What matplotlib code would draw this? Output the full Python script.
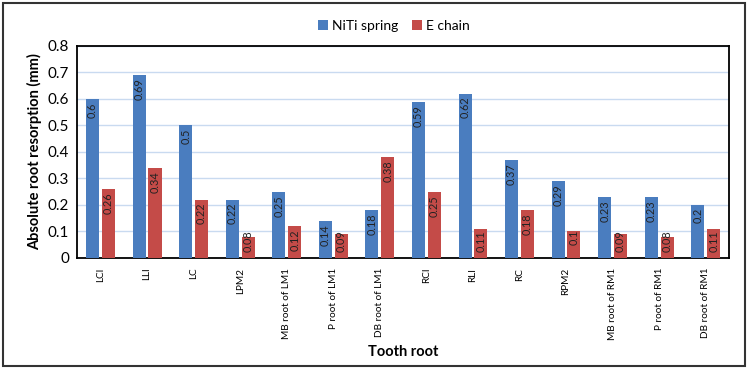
import matplotlib.pyplot as plt
from matplotlib.patches import Rectangle
import numpy as np

plt.rcParams['font.family'] = ['Lato', 'DejaVu Sans']

# tooth roots and values
roots = ["LCI", "LLI", "LC", "LPM2", "MB root of LM1", "P root of LM1", "DB root of LM1",
         "RCI", "RLI", "RC", "RPM2", "MB root of RM1", "P root of RM1", "DB root of RM1"]
niti = [0.6, 0.69, 0.5, 0.22, 0.25, 0.14, 0.18, 0.59, 0.62, 0.37, 0.29, 0.23, 0.23, 0.2]
echain = [0.26, 0.34, 0.22, 0.08, 0.12, 0.09, 0.38, 0.25, 0.11, 0.18, 0.1, 0.09, 0.08, 0.11]

blue = '#4a7dbf'
red = '#c44b48'

fig = plt.figure(figsize=(7.5, 3.68), dpi=100)
ax = fig.add_axes([0.103, 0.299, 0.869, 0.576])

x = np.arange(len(roots))
w = 0.28
b1 = ax.bar(x - w / 2 - 0.03, niti, w, color=blue, label='NiTi spring', zorder=3)
b2 = ax.bar(x + w / 2 + 0.03, echain, w, color=red, label='E chain', zorder=3)

# value labels inside bars
for bars, vals in [(b1, niti), (b2, echain)]:
    for rect, v in zip(bars, vals):
        top = max(v - 0.012, 0.105)
        ax.text(rect.get_x() + rect.get_width() / 2, top, f"{v:g}", rotation=90,
                ha='center', va='top', fontsize=7.8, color='#222222', zorder=4)

ax.set_ylim(0, 0.8)
ax.set_xlim(-0.5, len(roots) - 0.5)
ax.set_yticks(np.arange(0, 0.81, 0.1))
ax.set_yticklabels(['0'] + [f"{t:.1f}" for t in np.arange(0.1, 0.81, 0.1)], fontsize=11)
ax.set_xticks(x)
ax.set_xticklabels(roots, rotation=90, fontsize=7.2)
ax.tick_params(axis='x', length=0, pad=7)
ax.tick_params(axis='y', length=0, pad=6)
ax.grid(axis='y', color='#c9daf0', linewidth=1, zorder=0)
for s in ax.spines.values():
    s.set_linewidth(1.3)
    s.set_color('black')

ax.set_ylabel('Absolute root resorption (mm)', fontsize=10.5, fontweight='bold')
fig.text(0.538, 0.043, 'Tooth root', fontsize=10.5, fontweight='bold', ha='center', va='center')

fig.legend(handles=[b1, b2], loc='center', bbox_to_anchor=(0.525, 0.93), ncol=2,
           frameon=False, fontsize=10, handlelength=0.7, handleheight=0.7,
           columnspacing=1.0, handletextpad=0.3)

# outer border
fig.patches.append(Rectangle((0.004, 0.006), 0.989, 0.985, transform=fig.transFigure,
                             fill=False, edgecolor='#333333', linewidth=1.5))

plt.savefig('out.png', dpi=100)
